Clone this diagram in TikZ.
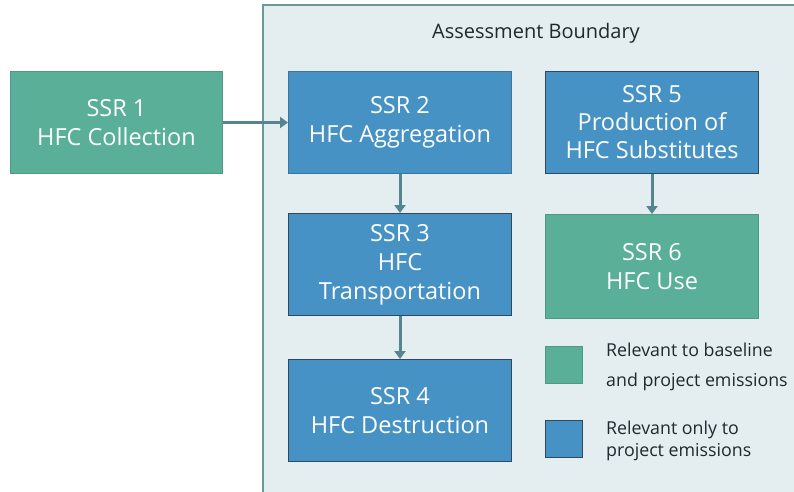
\documentclass[tikz,border=0pt]{standalone}
\usepackage{fontspec}
\setmainfont{Open Sans}
\usetikzlibrary{arrows.meta}
\definecolor{grn}{HTML}{59AF97}
\definecolor{grnb}{HTML}{4E9A86}
\definecolor{blu}{HTML}{4792C4}
\definecolor{blub}{HTML}{2F4A60}
\definecolor{bg}{HTML}{E4EDF0}
\definecolor{bnd}{HTML}{6A9A93}
\definecolor{arr}{HTML}{55858F}
\definecolor{txt}{HTML}{1E2A30}
\tikzset{
  ssr/.style={draw, line width=1pt, minimum width=223pt, minimum height=102pt, anchor=north west,
    align=center, text=white, font=\fontsize{23.5}{29}\selectfont, inner sep=0pt},
  gbox/.style={ssr, fill=grn, draw=grnb},
  bbox/.style={ssr, fill=blu, draw=blub},
  bbox2/.style={ssr, fill=blu, draw=blu!80!black},
  legsq/.style={draw, line width=1pt, minimum width=37pt, minimum height=37pt, anchor=north west, inner sep=0pt},
  legtxt/.style={anchor=west, align=left, text=txt, inner sep=0pt},
  conn/.style={draw=arr, line width=3pt, -{Triangle[length=8pt,width=11pt]}}
}
\begin{document}
\begin{tikzpicture}[x=1pt,y=-1pt]
\useasboundingbox (0,0) rectangle (794,491);
\fill[bg] (263,5) rectangle (800,495);
\draw[bnd, line width=1.2pt] (800,5) -- (263,5) -- (263,495);
\node[text=txt, font=\fontsize{20}{22}\selectfont] (title) at (536,33) {Assessment Boundary};
\node[gbox, minimum width=212pt] (s1) at (10,71) {SSR 1\\HFC Collection};
\node[bbox2] (s2) at (288,71) {SSR 2\\HFC Aggregation};
\node[bbox] (s3) at (288,213) {SSR 3\\HFC\\Transportation};
\node[bbox] (s4) at (288,359) {SSR 4\\HFC Destruction};
\node[bbox, minimum width=213pt, font=\fontsize{23.5}{28}\selectfont] (s5) at (545,71) {SSR 5\\Production of\\HFC Substitutes};
\node[gbox, minimum width=213pt, minimum height=104pt] (s6) at (545,214) {SSR 6\\HFC Use};
\node[legsq, fill=grn, draw=grnb] (l1) at (545,346) {};
\node[legsq, fill=blu, draw=blub] (l2) at (545,420) {};
\node[legtxt, font=\fontsize{17.8}{30}\selectfont] (t1) at (606,367) {Relevant to baseline\\and project emissions};
\node[legtxt, font=\fontsize{17.8}{22}\selectfont] (t2) at (606,441) {Relevant only to\\project emissions};
\draw[conn] (s1.east) -- (s2.west);
\draw[conn] (s2.south) -- (s3.north);
\draw[conn] (s3.south) -- (s4.north);
\draw[conn] (s5.south) -- (s6.north);
\end{tikzpicture}
\end{document}
